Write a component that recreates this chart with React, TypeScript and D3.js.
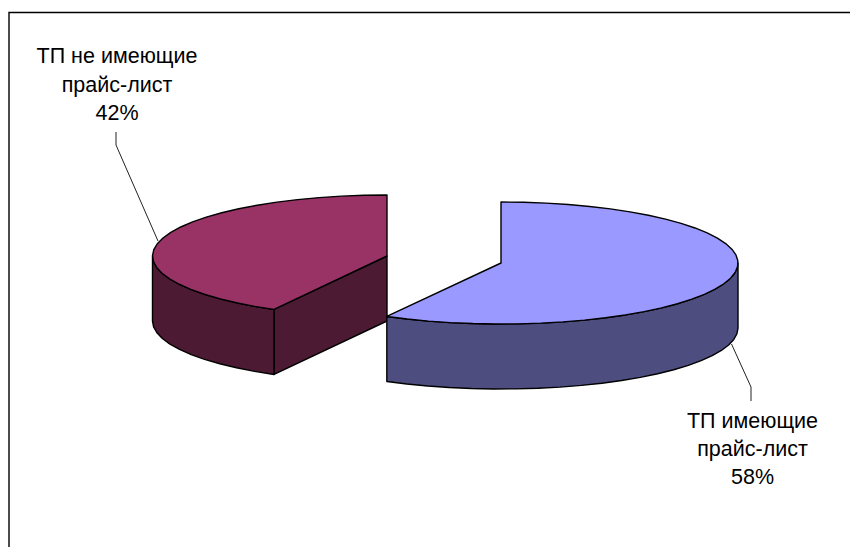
import React from "react";
import * as d3 from "d3";

const categories = ["ТП имеющие прайс-лист", "ТП не имеющие прайс-лист"];
const shares = [58, 42];
const labelLines = [
  ["ТП имеющие", "прайс-лист", "58%"],
  ["ТП не имеющие", "прайс-лист", "42%"],
];
const topColors = ["#9999ff", "#993366"];
const sideColors = ["#4d4d80", "#4d1a33"];
const sliceCentres: [number, number][] = [
  [501, 263],
  [387, 256],
];
const sliceRadiiX = [237, 234.5];
const labelCentres = [752.5, 117];
const labelBaselines = [[428, 456, 484], [63, 92, 120]];
const leaders = [
  [[731.5, 344], [751, 387], [751, 401]],
  [[158, 241], [116, 145], [116, 132]],
];

const WIDTH = 850;
const HEIGHT = 547;
const RY = 61;
const DEPTH = 65;
const FACET = (5.5 * Math.PI) / 180;

const lineGen = d3.line();

// Points along the rim; the ellipse is faceted like a flattened polygon.
function rim(cx: number, cy: number, rx: number, a0: number, a1: number): [number, number][] {
  const n = Math.max(1, Math.round((a1 - a0) / FACET));
  return d3.range(n + 1).map((i) => {
    const a = a0 + ((a1 - a0) * i) / n;
    return [cx + rx * Math.sin(a), cy - RY * Math.cos(a)] as [number, number];
  });
}

const arcs = d3
  .pie<number>()
  .sort(null)
  .startAngle(0)
  .endAngle(2 * Math.PI)(shares);

function Slice({ index }: { index: number }) {
  const { startAngle, endAngle } = arcs[index];
  const [cx, cy] = sliceCentres[index];
  const rx = sliceRadiiX[index];
  const top = rim(cx, cy, rx, startAngle, endAngle);
  const topPath = lineGen([[cx, cy], ...top])! + "Z";

  // Visible part of the outer wall: where the rim faces the viewer.
  const wallA0 = Math.max(startAngle, Math.PI / 2);
  const wallA1 = Math.min(endAngle, (3 * Math.PI) / 2);
  const wallTop = rim(cx, cy, rx, wallA0, wallA1);
  const wallBottom = wallTop.map(([x, y]) => [x, y + DEPTH] as [number, number]).reverse();
  const wallPath = lineGen([...wallTop, ...wallBottom])! + "Z";

  // Cut face that stays visible on the red slice, running back to the centre.
  const sx = cx + rx * Math.sin(startAngle);
  const sy = cy - RY * Math.cos(startAngle);
  const cutPath =
    index === 1
      ? lineGen([
          [cx, cy],
          [sx, sy],
          [sx, sy + DEPTH],
          [cx, cy + DEPTH],
        ])! + "Z"
      : "";

  return (
    <g stroke="#000" strokeWidth={1.4} strokeLinejoin="round" fill="none">
      {cutPath && <path d={cutPath} fill={sideColors[index]} />}
      <path d={wallPath} fill={sideColors[index]} />
      <path d={topPath} fill={topColors[index]} />
    </g>
  );
}

export default function App() {
  return (
    <svg
      width={WIDTH}
      height={HEIGHT}
      style={{ position: "absolute", left: 0, top: 0, background: "#fff" }}
      role="img"
      aria-label={categories.join(", ")}
    >
      <path d="M9 547V12.5H850" fill="none" stroke="#000" strokeWidth={1.4} />
      <Slice index={1} />
      <Slice index={0} />
      {leaders.map((pts, i) => (
        <path key={i} d={lineGen(pts as [number, number][])!} fill="none" stroke="#222" strokeWidth={1} />
      ))}
      {labelLines.map((lines, i) => (
        <text
          key={i}
          textAnchor="middle"
          fontFamily="'Liberation Sans', Arial, sans-serif"
          fontSize={21.5}
          fill="#000"
        >
          {lines.map((t, j) => (
            <tspan key={j} x={labelCentres[i]} y={labelBaselines[i][j]}>
              {t}
            </tspan>
          ))}
        </text>
      ))}
    </svg>
  );
}
